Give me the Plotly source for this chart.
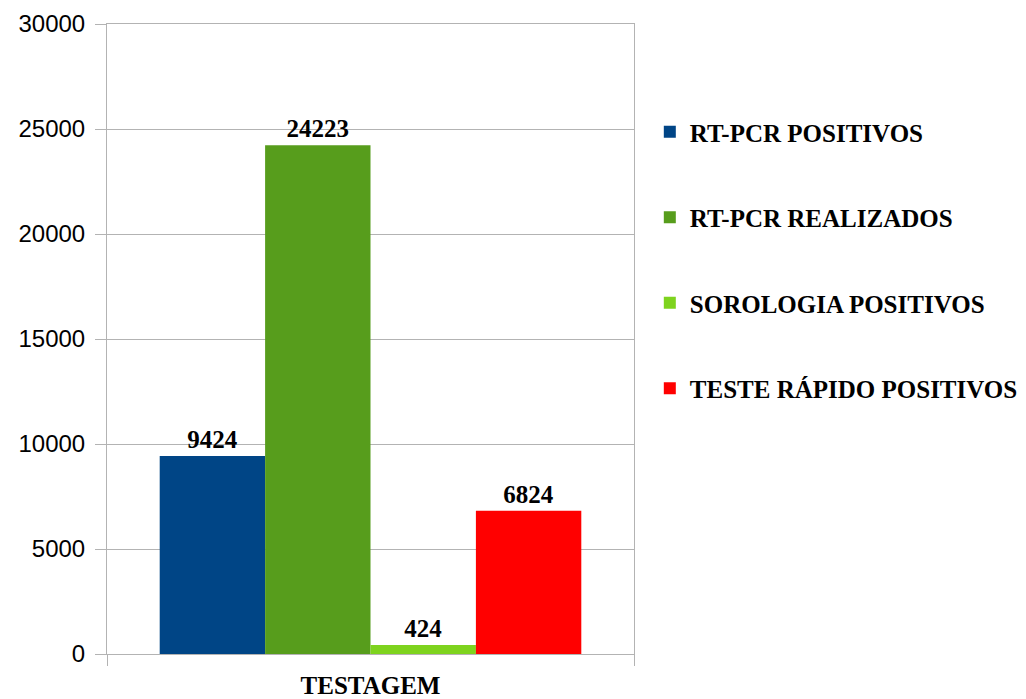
import plotly.graph_objects as go

category = ["TESTAGEM"]
series_names = [
    "RT-PCR POSITIVOS",
    "RT-PCR REALIZADOS",
    "SOROLOGIA POSITIVOS",
    "TESTE RÁPIDO POSITIVOS",
]
series_values = [9424, 24223, 424, 6824]
series_colors = ["#004586", "#579d1c", "#7ed31e", "#ff0000"]

serif_bold = dict(family="Liberation Serif", size=25, color="black", weight="bold")
grid_col = "#b3b3b3"

fig = go.Figure()

for name, val, col in zip(series_names, series_values, series_colors):
    fig.add_trace(
        go.Bar(
            x=category,
            y=[val],
            name=name,
            legendgroup=name,
            marker=dict(color=col, line=dict(width=0)),
            text=[val],
            textposition="outside",
            textfont=serif_bold,
            cliponaxis=False,
        )
    )

# page body adds an 8px offset, so the figure is sized to fit inside it
fig.update_layout(
    width=1018,
    height=691,
    margin=dict(l=99, r=392, t=16, b=45, autoexpand=False),
    plot_bgcolor="white",
    paper_bgcolor="white",
    barmode="group",
    bargap=0.2,
    bargroupgap=0,
    showlegend=True,
    legend=dict(
        x=1.03,
        y=0.865,
        yanchor="top",
        xanchor="left",
        font=serif_bold,
        tracegroupgap=50,
        itemwidth=30,
        traceorder="grouped",
    ),
)

fig.update_xaxes(
    tickson="boundaries",
    ticks="outside",
    ticklen=11,
    tickcolor=grid_col,
    showline=True,
    linecolor=grid_col,
    mirror=True,
    showgrid=False,
    tickfont=serif_bold,
    ticklabelstandoff=9,
)

fig.update_yaxes(
    range=[0, 30000],
    dtick=5000,
    ticks="outside",
    ticklen=11,
    tickcolor=grid_col,
    showline=True,
    linecolor=grid_col,
    mirror=True,
    showgrid=True,
    gridcolor=grid_col,
    zeroline=False,
    tickformat="d",
    tickfont=dict(family="Liberation Sans", size=24, color="black"),
    ticklabelstandoff=5,
)

fig.write_html("out.html")
